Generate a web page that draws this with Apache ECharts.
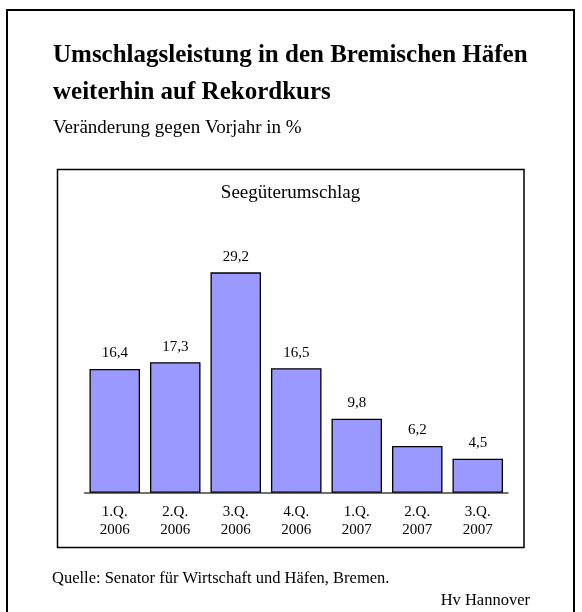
<!DOCTYPE html>
<html>
<head>
<meta charset="utf-8">
<script src="https://cdn.jsdelivr.net/npm/echarts@6/dist/echarts.min.js"></script>
<style>
  html, body { margin: 0; padding: 0; background: #fff; }
  #chart_view { width: 582px; height: 612px; }
</style>
</head>
<body>
<div id="chart_view"></div>
<script>
// data
var quarters = ['1.Q.\n2006', '2.Q.\n2006', '3.Q.\n2006', '4.Q.\n2006', '1.Q.\n2007', '2.Q.\n2007', '3.Q.\n2007'];
var changePct = [16.4, 17.3, 29.2, 16.5, 9.8, 6.2, 4.5];

var titleLines = ['Umschlagsleistung in den Bremischen Häfen', 'weiterhin auf Rekordkurs'];
var subTitle = 'Veränderung gegen Vorjahr in %';
var chartTitle = 'Seegüterumschlag';
var sourceText = 'Quelle: Senator für Wirtschaft und Häfen, Bremen.';
var creditText = 'Hv Hannover';

var serif = '"Liberation Serif", "Times New Roman", serif';

var myChart = echarts.init(document.getElementById('chart_view'));

var option = {
    backgroundColor: '#fff',
    animation: false,
    grid: {
        left: 84.5,
        right: 74,
        top: 228.6,
        bottom: 119.3
    },
    xAxis: {
        type: 'category',
        data: quarters,
        axisLine: { lineStyle: { color: '#444', width: 1.5 } },
        axisTick: { show: false },
        axisLabel: {
            color: '#000',
            fontFamily: serif,
            fontSize: 15,
            lineHeight: 18,
            margin: 10
        }
    },
    yAxis: {
        type: 'value',
        min: 0,
        max: 35,
        show: false,
        splitLine: { show: false }
    },
    series: [{
        type: 'bar',
        data: changePct,
        barCategoryGap: '16.5%',
        itemStyle: {
            color: '#9999ff',
            borderColor: '#000',
            borderWidth: 1.3
        },
        label: {
            show: true,
            position: 'top',
            distance: 8,
            color: '#000',
            fontFamily: serif,
            fontSize: 15,
            formatter: function (p) {
                return p.value.toFixed(1).replace('.', ',');
            }
        }
    }],
    graphic: [
        // outer frame
        { type: 'rect', shape: { x: 7, y: 10, width: 567, height: 640 },
          style: { fill: 'none', stroke: '#000', lineWidth: 2 }, silent: true },
        // chart frame
        { type: 'rect', shape: { x: 57.5, y: 169.5, width: 466.5, height: 378 },
          style: { fill: 'none', stroke: '#000', lineWidth: 1.5 }, silent: true },
        { type: 'text', x: 53, y: 55.5,
          style: { text: titleLines[0], font: 'bold 25px ' + serif, fill: '#000', verticalAlign: 'middle' } },
        { type: 'text', x: 53, y: 92.5,
          style: { text: titleLines[1], font: 'bold 25px ' + serif, fill: '#000', verticalAlign: 'middle' } },
        { type: 'text', x: 53, y: 128.5,
          style: { text: subTitle, font: '19px ' + serif, fill: '#000', verticalAlign: 'middle' } },
        { type: 'text', x: 290.5, y: 193.5,
          style: { text: chartTitle, font: '19px ' + serif, fill: '#000', align: 'center', verticalAlign: 'middle' } },
        { type: 'text', x: 52, y: 579,
          style: { text: sourceText, font: '16.5px ' + serif, fill: '#000', verticalAlign: 'middle' } },
        { type: 'text', x: 530, y: 601,
          style: { text: creditText, font: '16.5px ' + serif, fill: '#000', align: 'right', verticalAlign: 'middle' } }
    ]
};

myChart.setOption(option);
</script>
</body>
</html>
